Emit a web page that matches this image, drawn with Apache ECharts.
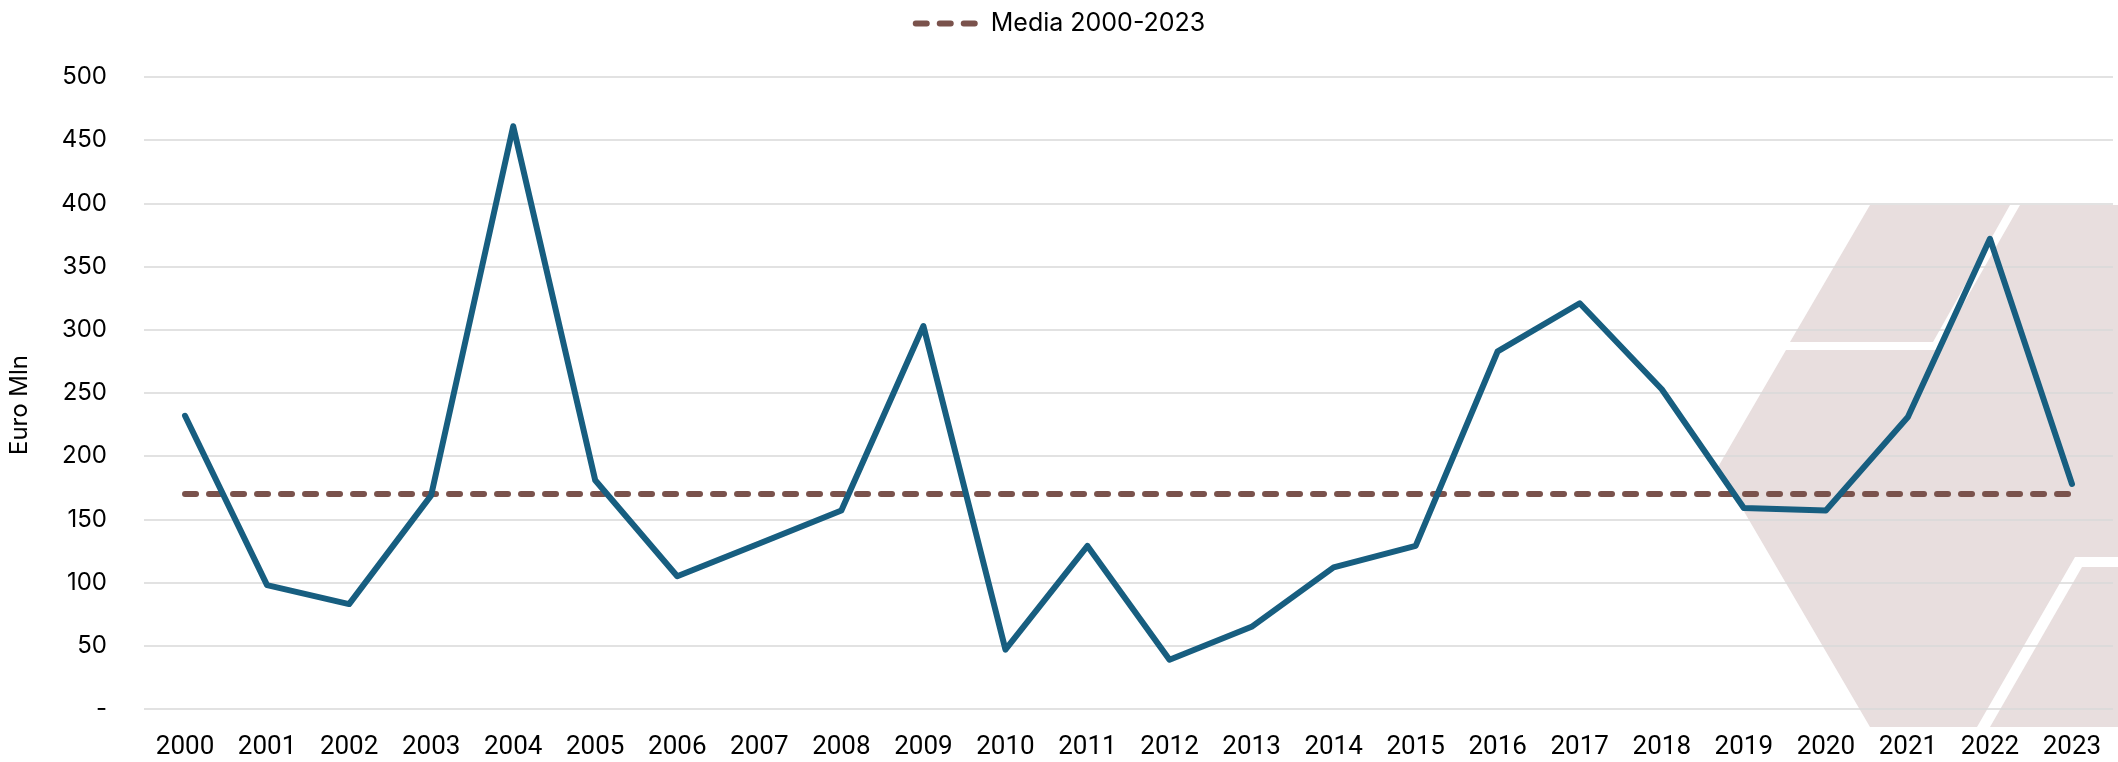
<!DOCTYPE html>
<html>
<head>
<meta charset="utf-8">
<script src="https://cdn.jsdelivr.net/npm/echarts@6/dist/echarts.min.js"></script>
<style>
html,body{margin:0;padding:0;background:#fff;}
#chart{width:2118px;height:762px;}
</style>
</head>
<body>
<div id="chart"></div>
<script>
const years = ['2000','2001','2002','2003','2004','2005','2006','2007','2008','2009','2010','2011','2012','2013','2014','2015','2016','2017','2018','2019','2020','2021','2022','2023'];
const values = [232, 98, 83, 169, 461, 181, 105, 131, 157, 303, 47, 129, 39, 65, 112, 129, 283, 321, 253, 159, 157, 231, 372, 178];
const meanValue = 170;
const meanName = 'Media 2000-2023';
const yAxisName = 'Euro Mln';
const yTickLabels = {0: '-'};

const chart = echarts.init(document.getElementById('chart'), null, {renderer: 'canvas'});
const shapeFill = '#e8dede';
const dashIcon = 'path://M3,0H14A3,3 0 0 1 14,6H3A3,3 0 0 1 3,0Z M27,0H38A3,3 0 0 1 38,6H27A3,3 0 0 1 27,0Z M51,0H62A3,3 0 0 1 62,6H51A3,3 0 0 1 51,0Z';
chart.setOption({
  backgroundColor: '#ffffff',
  animation: false,
  graphic: [
    {type: 'polygon', z: -10, shape: {points: [[1870,205],[2010,205],[1933,342],[1790,342]]}, style: {fill: shapeFill}},
    {type: 'polygon', z: -10, shape: {points: [[2020,205],[2118,205],[2118,557],[2075,557],[1977,727],[1870,727],[1718,467],[1786,350],[1937,350]]}, style: {fill: shapeFill}},
    {type: 'polygon', z: -10, shape: {points: [[2082,567],[2118,567],[2118,727],[1990,727]]}, style: {fill: shapeFill}}
  ],
  legend: {
    data: [{name: meanName, icon: dashIcon}],
    top: 6,
    left: 'center',
    itemWidth: 65,
    itemHeight: 6,
    itemStyle: {color: '#7a524c', borderWidth: 0},
    textStyle: {fontFamily: 'Inter', fontSize: 25, color: '#000', padding: [0,0,0,8]}
  },
  grid: {left: 139, right: 5, top: 77, bottom: 53, containLabel: false},
  xAxis: {
    type: 'category',
    data: years,
    boundaryGap: true,
    axisLine: {show: false},
    axisTick: {show: false},
    axisLabel: {fontFamily: 'Roboto', fontSize: 26, color: '#000', margin: 25}
  },
  yAxis: {
    type: 'value',
    min: 0, max: 500, interval: 50,
    name: yAxisName,
    nameLocation: 'middle',
    nameGap: 112,
    nameRotate: 90,
    nameTextStyle: {fontFamily: 'Inter', fontSize: 24, color: '#000', padding: [0, 24, 0, 0]},
    axisLine: {show: false},
    axisTick: {show: false},
    splitLine: {lineStyle: {color: '#d9d9d9', width: 1.5}},
    axisLabel: {
      fontFamily: 'Inter', fontSize: 24, color: '#000', margin: 37,
      formatter: v => (yTickLabels[v] !== undefined ? yTickLabels[v] : String(v))
    }
  },
  series: [
    {
      name: 'Valore',
      type: 'line',
      data: values,
      symbol: 'none',
      z: 3,
      lineStyle: {color: '#175e80', width: 6, cap: 'round', join: 'round'}
    },
    {
      name: meanName,
      type: 'line',
      data: years.map(() => meanValue),
      symbol: 'none',
      z: 2,
      itemStyle: {color: '#7a524c'},
      lineStyle: {color: '#7a524c', width: 6, type: [11, 13], cap: 'round'}
    }
  ]
});
</script>
</body>
</html>
